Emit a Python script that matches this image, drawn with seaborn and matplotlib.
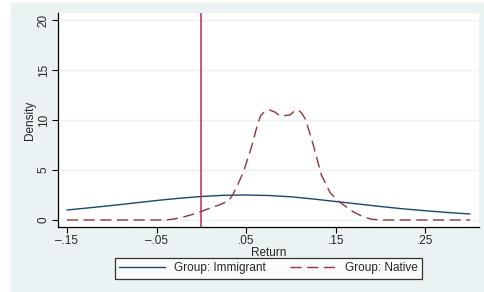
import matplotlib
matplotlib.use("Agg")
import matplotlib.pyplot as plt
import matplotlib.patches as mpatches
from matplotlib.lines import Line2D
import seaborn as sns
import pandas as pd

# density values
imm_x = [-0.15, -0.125, -0.10, -0.075, -0.05, -0.025, 0.0, 0.025, 0.05, 0.075,
         0.10, 0.125, 0.15, 0.175, 0.20, 0.225, 0.25, 0.275, 0.30]
imm_y = [1.0, 1.22, 1.45, 1.7, 1.95, 2.17, 2.35, 2.47, 2.5, 2.45,
         2.32, 2.1, 1.85, 1.6, 1.35, 1.12, 0.93, 0.75, 0.6]

nat_x = [-0.15, -0.10, -0.05, -0.04, -0.03, -0.02, -0.01, 0.0, 0.01, 0.02, 0.03,
         0.035, 0.04, 0.047, 0.056, 0.062, 0.066, 0.07, 0.076, 0.082, 0.088,
         0.094, 0.099, 0.104, 0.108, 0.112, 0.116, 0.12, 0.125, 0.134, 0.144,
         0.153, 0.162, 0.17, 0.18, 0.19, 0.20, 0.25, 0.30]
nat_y = [0.0, 0.0, 0.0, 0.01, 0.1, 0.3, 0.55, 0.85, 1.2, 1.5, 1.9,
         2.5, 3.4, 4.8, 7.3, 9.3, 10.4, 10.8, 11.0, 10.8, 10.4,
         10.45, 10.5, 10.9, 11.0, 10.7, 10.1, 9.0, 7.5, 4.5, 2.7,
         1.9, 1.3, 0.8, 0.35, 0.08, 0.0, 0.0, 0.0]

x_ticks = [-0.15, -0.05, 0.05, 0.15, 0.25]
x_labels = ["\u2013.15", "\u2013.05", ".05", ".15", ".25"]
y_ticks = [0, 5, 10, 15, 20]
ref_line = 0.0

navy = "#1a476f"
maroon = "#90353b"
bg = "#eaf2f3"
dash = (0, (8, 4))

sns.set_style("white")
plt.rcParams["font.family"] = ["Liberation Sans", "DejaVu Sans"]
plt.rcParams["font.size"] = 8.5

fig = plt.figure(figsize=(4.85, 2.92), dpi=100)
fig.patch.set_facecolor("white")
fig.patches.append(mpatches.Rectangle((11 / 485, 0), 1, 1 - 3 / 292,
                                      transform=fig.transFigure, color=bg, zorder=-10))
ax = fig.add_axes([58 / 485, 1 - 227 / 292, 421 / 485, 214 / 292])
ax.set_facecolor("white")

imm = pd.DataFrame({"Return": imm_x, "Density": imm_y})
nat = pd.DataFrame({"Return": nat_x, "Density": nat_y})

for yv in y_ticks:
    ax.axhline(yv, color=bg, lw=1.0, zorder=0)

sns.lineplot(data=imm, x="Return", y="Density", ax=ax, color=navy, lw=1.0)
sns.lineplot(data=nat, x="Return", y="Density", ax=ax, color=maroon, lw=1.0,
             linestyle=dash)
ax.axvline(ref_line, color="#c0284e", lw=1.1)

ax.set_xlim(-0.16, 0.31)
ax.set_ylim(-0.7, 20.7)
ax.set_xticks(x_ticks)
ax.set_xticklabels(x_labels)
ax.set_yticks(y_ticks)
ax.set_yticklabels([str(v) for v in y_ticks], rotation=90, va="center")
ax.tick_params(axis="both", direction="out", length=4, width=0.8, color="black",
               labelsize=8.5, pad=2, left=True, bottom=True)
ax.set_xlabel("Return", fontsize=8.5, labelpad=0)
ax.set_ylabel("Density", fontsize=8.5, labelpad=1)

for s in ["top", "right"]:
    ax.spines[s].set_visible(False)
for s in ["left", "bottom"]:
    ax.spines[s].set_color("black")
    ax.spines[s].set_linewidth(0.9)

handles = [Line2D([], [], color=navy, lw=1.0),
           Line2D([], [], color=maroon, lw=1.0, linestyle=dash)]
leg = fig.legend(handles, ["Group: Immigrant", "Group: Native"], loc="center",
                 bbox_to_anchor=(268.5 / 485, 1 - 268.5 / 292), ncol=2,
                 frameon=True, fancybox=False, fontsize=8.5, handlelength=3.9,
                 columnspacing=2.0, borderpad=0.35, handletextpad=0.8)
leg.get_frame().set_edgecolor("black")
leg.get_frame().set_linewidth(0.9)
leg.get_frame().set_facecolor("white")

fig.savefig("out.png", dpi=100, facecolor=fig.get_facecolor())
